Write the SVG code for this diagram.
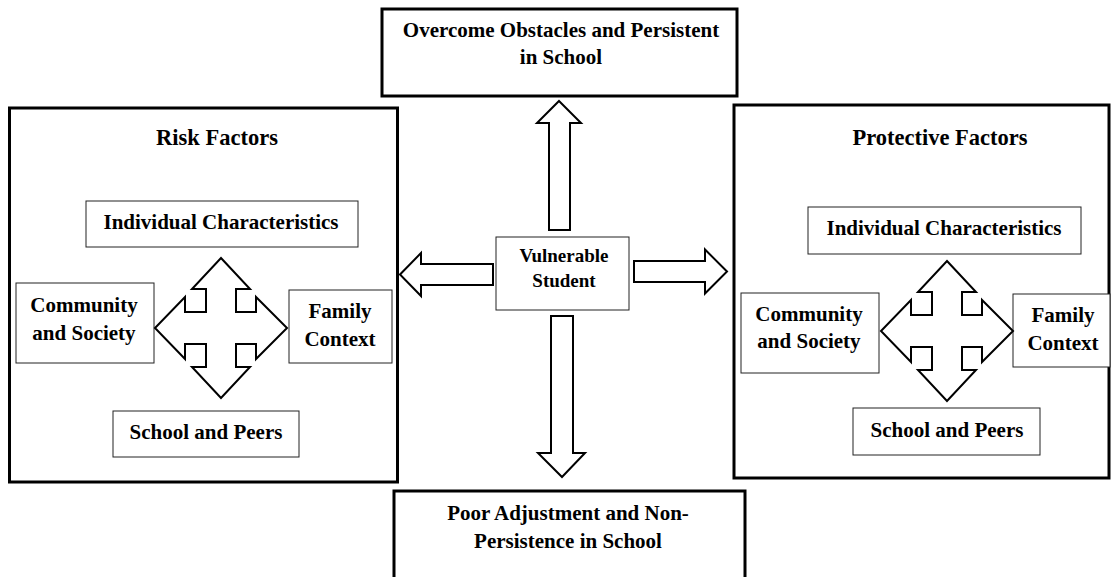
<svg xmlns="http://www.w3.org/2000/svg" width="1111" height="577" viewBox="0 0 1111 577">
<style>
.big{fill:#fff;stroke:#000;stroke-width:3}
.inner{fill:#fff;stroke:#222;stroke-width:1}
.arrow{fill:#fff;stroke:#000;stroke-width:2;stroke-linejoin:miter}
text{font-family:'Liberation Serif','Times New Roman',Times,'DejaVu Serif',serif;font-weight:700;fill:#000;text-anchor:middle}
.t21{font-size:21px}
.title{font-size:22.5px}
.t19{font-size:19px}
</style>
<defs>
<path id="quad" d="M0 -70 L29 -39 L15 -39 L15 -16 L35 -16 L35 -31 L66 0 L35 31 L35 16 L15 16 L15 39 L29 39 L0 70 L-29 39 L-15 39 L-15 16 L-36 16 L-36 31 L-66 0 L-36 -31 L-36 -16 L-15 -16 L-15 -39 L-29 -39 Z"/>
</defs>
<rect width="1111" height="577" fill="#fff"/>

<g id="outcome-top">
<rect class="big" x="382" y="9" width="355" height="87"/>
<text class="t21" x="561" y="37">Overcome Obstacles and Persistent</text>
<text class="t21" x="561" y="64">in School</text>
</g>

<g id="outcome-bottom">
<rect class="big" x="394" y="491" width="351" height="100"/>
<text class="t21" x="568" y="520">Poor Adjustment and Non-</text>
<text class="t21" x="568" y="548">Persistence in School</text>
</g>

<g id="risk-factors">
<rect class="big" x="9.5" y="108" width="388" height="374"/>
<text class="title" x="217" y="145">Risk Factors</text>
<g id="risk-individual">
<rect class="inner" x="86" y="201" width="272" height="46"/>
<text class="t21" x="221" y="229">Individual Characteristics</text>
</g>
<g id="risk-community">
<rect class="inner" x="16" y="283" width="138" height="80"/>
<text class="t21" x="84" y="312">Community</text>
<text class="t21" x="84" y="340">and Society</text>
</g>
<g id="risk-family">
<rect class="inner" x="289" y="290" width="103" height="73"/>
<text class="t21" x="340" y="318">Family</text>
<text class="t21" x="340" y="346">Context</text>
</g>
<g id="risk-school">
<rect class="inner" x="113" y="411" width="186" height="46"/>
<text class="t21" x="206" y="439">School and Peers</text>
</g>
</g>

<g id="protective-factors">
<rect class="big" x="734" y="105" width="375" height="373"/>
<text class="title" x="940" y="145">Protective Factors</text>
<g id="prot-individual">
<rect class="inner" x="808" y="207" width="273" height="47"/>
<text class="t21" x="944" y="235">Individual Characteristics</text>
</g>
<g id="prot-community">
<rect class="inner" x="741" y="293" width="138" height="80"/>
<text class="t21" x="809" y="321">Community</text>
<text class="t21" x="809" y="348">and Society</text>
</g>
<g id="prot-family">
<rect class="inner" x="1013" y="294" width="97" height="73"/>
<text class="t21" x="1063" y="322">Family</text>
<text class="t21" x="1063" y="350">Context</text>
</g>
<g id="prot-school">
<rect class="inner" x="853" y="408" width="187" height="47"/>
<text class="t21" x="947" y="437">School and Peers</text>
</g>
</g>

<g id="vulnerable-student">
<rect class="inner" x="496" y="237" width="133" height="73"/>
<text class="t19" x="564" y="262">Vulnerable</text>
<text class="t19" x="564" y="287">Student</text>
</g>

<g id="connectors">
<use href="#quad" class="arrow" transform="translate(221,328)"/>
<use href="#quad" class="arrow" transform="translate(947,331)"/>
<path class="arrow" d="M559 101 L581 123 L570 123 L570 230 L549 230 L549 123 L537 123 Z"/>
<path class="arrow" d="M562 477 L585 453 L573 453 L573 316 L551 316 L551 453 L538 453 Z"/>
<path class="arrow" d="M400 274.5 L421 253 L421 264 L493 264 L493 285 L421 285 L421 296 Z"/>
<path class="arrow" d="M727 271.5 L705 249.5 L705 261 L634 261 L634 282 L705 282 L705 293.5 Z"/>
</g>
</svg>
